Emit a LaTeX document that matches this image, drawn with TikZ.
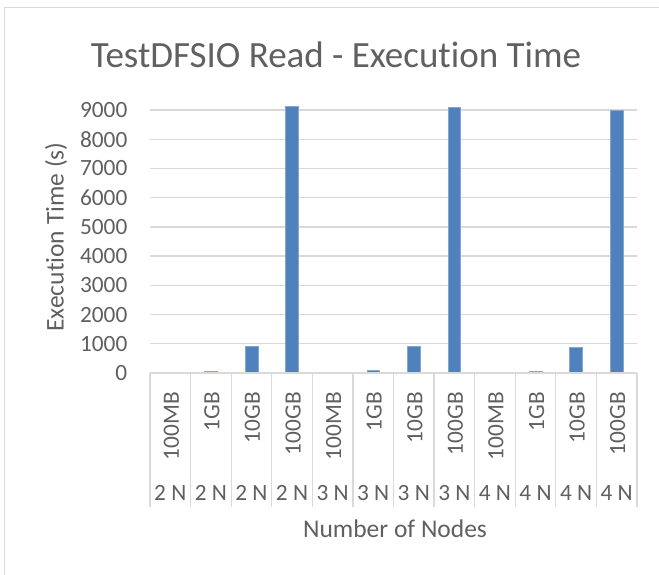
\documentclass[tikz,border=0pt]{standalone}
\usepackage{fontspec}
\setmainfont{Carlito}[Ligatures=NoCommon]
\definecolor{txtgray}{HTML}{606060}
\definecolor{gridgray}{HTML}{D9D9D9}
\definecolor{framegray}{HTML}{D9D9D9}
\definecolor{barblue}{HTML}{4F81BD}
\tikzset{
  ticklbl/.style={text=txtgray, font=\fontsize{23.3}{28}\selectfont, anchor=east, inner sep=0pt},
  catlbl/.style={text=txtgray, font=\fontsize{23.3}{28}\selectfont, rotate=90, anchor=east, inner sep=0pt},
  nodelbl/.style={text=txtgray, font=\fontsize{23.3}{28}\selectfont, inner sep=0pt},
  axtitle/.style={text=txtgray, font=\fontsize{25.5}{30}\selectfont, inner sep=0pt},
  charttitle/.style={text=txtgray, font=\fontsize{37}{42}\selectfont, inner sep=0pt, anchor=base},
  gridline/.style={draw=gridgray, line width=1.3pt},
  barfill/.style={fill=barblue, draw=barblue!70!white, line width=0.6pt},
}
\begin{document}
\begin{tikzpicture}[x=1pt,y=-1pt]
\useasboundingbox (0,0) rectangle (659,574);
\fill[white] (0,0) rectangle (659,574);
% chart frame (only top and left edges fall inside the page)
\draw[framegray, line width=1.3pt] (4.5,590) -- (4.5,7.5) -- (670,7.5);

% plot area: x from 150 to 637, value 0 at y=373, 1000 units = 29.222 px
\def\xl{150}\def\xr{637}\def\yz{373}\def\sc{0.029222}\def\cw{40.583}

% horizontal gridlines and value labels
\foreach \v in {1000,2000,...,9000}{
  \pgfmathsetmacro{\yy}{\yz-\v*\sc}
  \draw[gridline] (\xl,\yy) -- (\xr,\yy);
}
\foreach \v/\nm in {0/t0,1000/t1,2000/t2,3000/t3,4000/t4,5000/t5,6000/t6,7000/t7,8000/t8,9000/t9}{
  \pgfmathsetmacro{\yy}{\yz-\v*\sc}
  \node[ticklbl] (\nm) at (127.5,\yy) {\v};
}

% bars
\foreach \i/\v in {0/10,1/75,2/905,3/9120,4/10,5/80,6/900,7/9085,8/10,9/75,10/890,11/9000}{
  \pgfmathsetmacro{\cx}{\xl+(\i+0.5)*\cw}
  \pgfmathsetmacro{\yy}{\yz-\v*\sc}
  \path[barfill] (\cx-6.4,\yz) rectangle (\cx+6.4,\yy);
}

% category axis line and separators
\draw[gridline] (\xl,\yz) -- (\xr,\yz);
\foreach \k in {0,...,12}{
  \pgfmathsetmacro{\sx}{\xl+\k*\cw}
  \draw[gridline] (\sx,\yz) -- (\sx,507);
}

% category labels (size, then number of nodes)
\foreach \i/\s/\n in {0/100MB/2,1/1GB/2,2/10GB/2,3/100GB/2,4/100MB/3,5/1GB/3,6/10GB/3,7/100GB/3,8/100MB/4,9/1GB/4,10/10GB/4,11/100GB/4}{
  \pgfmathsetmacro{\cx}{\xl+(\i+0.5)*\cw}
  \node[catlbl] (s\i) at (\cx+1,392) {\s};
  \node[nodelbl] (n\i) at (\cx,493) {\n\ N};
}

% titles
\node[charttitle] (title) at (336,67) {TestDFSIO Read - Execution Time};
\node[axtitle, rotate=90] (ytitle) at (56,237) {Execution Time (s)};
\node[axtitle] (xtitle) at (395,529) {Number of Nodes};
\end{tikzpicture}
\end{document}
